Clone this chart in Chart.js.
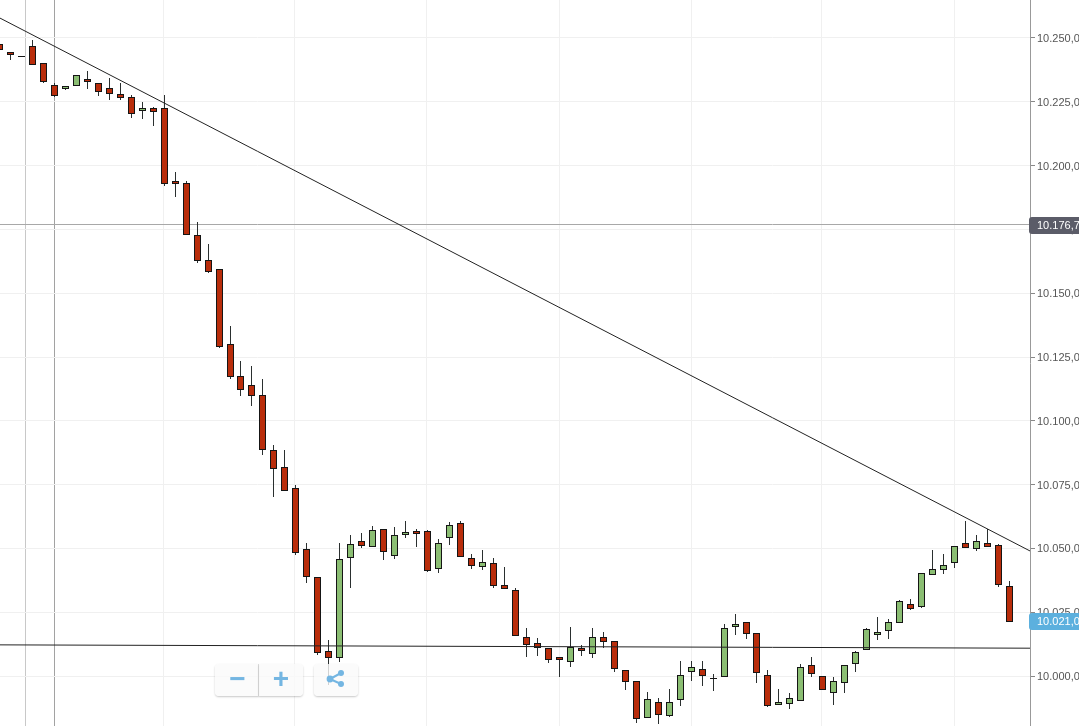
<!DOCTYPE html>
<html>
<head>
<meta charset="utf-8">
<title>Candles</title>
<script src="https://cdn.jsdelivr.net/npm/chart.js@4"></script>
<style>
html, body { margin: 0; padding: 0; background: #fff; overflow: hidden; }
#wrap { position: relative; width: 1079px; height: 726px; }
.btn {
    position: absolute; top: 664px; height: 32px; background: rgba(250,250,250,0.8);
    box-shadow: 0 1px 2px rgba(0,0,0,0.22); color: #74b6e2;
    font: bold 28px/30px "Liberation Sans", Arial, sans-serif; text-align: center;
}
</style>
</head>
<body>
<div id="wrap">
    <canvas id="chart"></canvas>
    <div class="btn" style="left:215px;width:43px;border-radius:4px 0 0 4px;border-right:1px solid #ddd;text-indent:2px">−</div>
    <div class="btn" style="left:259px;width:44px;border-radius:0 4px 4px 0">+</div>
    <div class="btn" style="left:314px;width:44px;border-radius:4px">
        <svg width="20" height="20" style="margin-top:6px" viewBox="0 0 20 20">
            <path d="M4 9 L15 3 M4 9 L15 14" stroke="#74b6e2" stroke-width="2" fill="none"/>
            <circle cx="4" cy="9" r="3.4" fill="#74b6e2"/>
            <circle cx="15" cy="3" r="3" fill="#74b6e2"/>
            <circle cx="15" cy="14" r="3" fill="#74b6e2"/>
        </svg>
    </div>
</div>
<script>
const opens = [10247.5,10244.4,10242.9,10246.8,10240.1,10231.5,10230.1,10231.3,10233.8,10232.2,10230.3,10227.9,10226.8,10221.7,10222.5,10222.5,10193.8,10193.1,10172.7,10162.9,10159.4,10130.0,10117.4,10113.9,10110.0,10088.4,10081.8,10073.6,10049.6,10038.7,10009.7,10007.3,10046.5,10052.8,10050.8,10057.5,10047.3,10055.5,10056.7,10056.7,10042.2,10054.3,10059.8,10046.1,10043.0,10044.2,10035.5,10033.6,10015.2,10012.8,10010.9,10007.3,10005.8,10010.9,10008.9,10015.2,10013.6,10002.2,9997.9,9983.8,9989.7,9984.6,9990.9,10001.8,10002.6,9999.1,9999.9,10019.5,10021.0,10016.7,10000.3,9988.9,9989.3,9990.5,10004.2,9999.9,9993.6,9997.5,10005.0,10010.5,10016.3,10017.9,10021.0,10028.1,10027.3,10039.9,10041.8,10044.6,10052.0,10050.0,10052.0,10051.2,10035.1];
const highs = [10247.5,10244.4,10242.9,10249.2,10240.1,10232.3,10231.1,10235.4,10237.0,10232.2,10234.3,10232.0,10227.3,10224.8,10222.8,10227.3,10197.4,10193.8,10177.9,10169.0,10159.4,10137.1,10123.4,10121.1,10116.0,10090.5,10088.2,10074.6,10052.0,10038.7,10014.0,10052.0,10055.1,10056.0,10058.7,10057.5,10058.0,10060.6,10057.5,10057.1,10053.6,10060.2,10060.6,10047.7,10049.1,10046.1,10042.6,10034.1,10018.7,10014.8,10010.9,10007.3,10019.2,10011.9,10018.7,10017.1,10013.6,10002.2,9997.9,9993.7,9991.3,9994.8,10005.8,10005.8,10005.8,10000.7,10020.1,10024.2,10021.0,10016.7,10002.2,9994.8,9993.2,10004.7,10007.2,9999.9,9999.5,10004.2,10009.7,10018.7,10023.1,10022.2,10029.7,10030.1,10040.2,10049.1,10047.7,10050.8,10060.6,10055.1,10057.5,10051.6,10037.1];
const lows = [10245.6,10241.4,10242.8,10239.7,10232.5,10227.2,10229.9,10231.3,10230.4,10227.4,10225.8,10225.8,10218.9,10218.4,10215.9,10192.1,10188.0,10173.1,10162.0,10158.0,10128.6,10116.5,10110.1,10106.1,10086.7,10070.3,10072.8,10047.7,10036.7,10008.3,9996.5,10005.8,10034.8,10050.3,10050.8,10045.7,10046.1,10054.3,10050.7,10040.8,10040.6,10051.7,10046.9,10042.2,10041.7,10034.6,10034.4,10015.9,10007.7,10008.2,10005.2,9999.7,10003.8,10008.2,10007.2,10011.1,10001.7,9994.6,9981.7,9983.8,9981.3,9984.1,9988.4,9998.2,9996.2,9994.2,9999.9,10016.2,10014.8,9997.3,9988.1,9988.9,9987.2,9990.5,9999.7,9994.8,9988.9,9993.7,10001.7,10010.5,10014.2,10014.8,10021.0,10026.1,10026.9,10039.9,10040.2,10042.7,10050.4,10049.3,10050.8,10035.1,10021.4];
const closes = [10245.6,10243.6,10242.8,10239.7,10232.9,10227.4,10231.1,10235.4,10232.9,10229.1,10228.3,10226.6,10220.5,10222.5,10221.3,10193.1,10192.9,10173.1,10162.9,10158.6,10129.2,10117.4,10112.3,10110.0,10088.8,10081.4,10072.8,10048.5,10039.1,10009.3,10007.3,10045.7,10051.6,10051.2,10057.1,10048.9,10055.1,10056.3,10055.9,10041.4,10052.0,10059.1,10046.9,10043.4,10044.6,10035.5,10034.4,10015.9,10012.4,10011.2,10006.5,10006.5,10011.2,10010.1,10015.2,10013.6,10003.0,9997.9,9983.4,9990.9,9985.0,9989.7,10000.3,10003.4,10000.3,9999.0,10018.7,10020.3,10016.7,10001.4,9988.5,9989.7,9991.3,10003.4,10001.1,9994.8,9997.9,10004.2,10009.3,10018.3,10017.1,10021.0,10029.3,10026.5,10040.2,10041.8,10043.4,10050.8,10050.4,10052.8,10050.8,10035.9,10021.4];

const yTicks = [10000,10025,10050,10075,10100,10125,10150,10175,10200,10225,10250];
const crosshairPrice = 10176.92;
const crosshairLabel = "10.176,79";
const lastPrice = 10021.4;
const lastLabel = "10.021,00";

// x values of the time grid and of the two crosshair lines (in candle numbers)
const xGrid = [14.98,26.92,38.94,50.97,62.99,74.92,86.95];
const xCross = [2.41,4.98];

const xMin = 0.0509;
const xMax = 93.866;
const yMin = 9980.41;
const yMax = 10264.89;

const trendLine = [10257.8,10049.0];
const supportLine = [10012.2,10010.9];

const wickData = lows.map((low, i) => ({x: i, y: [low, highs[i]]}));
const bodyData = opens.map((open, i) => ({x: i, y: [open, closes[i]]}));
const bodyColors = opens.map((open, i) => closes[i] > open ? "#8bbe73" : "#b92d0b");

// keep the candles on whole pixels so the 1px borders stay sharp
const snapBars = {
    id: "snapBars",
    beforeDatasetsDraw(chart) {
        chart.data.datasets.forEach((ds, d) => {
            if (ds.type !== "bar") return;
            chart.getDatasetMeta(d).data.forEach(el => {
                const top = Math.min(el.y, el.base);
                const bottom = Math.max(el.y, el.base);
                el.x = Math.floor(el.x) + 0.5;
                el.y = Math.floor(top);
                el.base = Math.max(Math.ceil(bottom), el.y + 1);
            });
        });
    }
};

const priceTags = {
    id: "priceTags",
    afterDraw(chart) {
        const ctx = chart.ctx;
        const y = chart.scales.y;
        const drawTag = (value, text, color) => {
            const py = Math.round(y.getPixelForValue(value));
            ctx.save();
            ctx.fillStyle = color;
            ctx.beginPath();
            ctx.roundRect(1029, py - 8, 60, 17, 3);
            ctx.fill();
            ctx.fillStyle = "#fff";
            ctx.font = "11px 'Liberation Sans', Arial, sans-serif";
            ctx.textBaseline = "middle";
            ctx.fillText(text, 1037, py + 1);
            ctx.restore();
        };
        drawTag(crosshairPrice, crosshairLabel, "#5b5c68");
        drawTag(lastPrice, lastLabel, "#5cb0de");
    }
};

new Chart(document.getElementById("chart"), {
    data: {
        datasets: [
            {type: "line", data: [{x: xMin, y: trendLine[0]}, {x: xMax, y: trendLine[1]}], borderColor: "#222", borderWidth: 1, pointRadius: 0, order: 1},
            {type: "line", data: [{x: xMin, y: supportLine[0]}, {x: xMax, y: supportLine[1]}], borderColor: "#222", borderWidth: 1, pointRadius: 0, order: 1},
            {type: "bar", data: bodyData, backgroundColor: bodyColors, borderColor: "#151515", borderWidth: 1, borderSkipped: false, inflateAmount: 0, barThickness: 7, grouped: false, order: 2},
            {type: "bar", data: wickData, backgroundColor: "#2a2f2f", borderWidth: 0, inflateAmount: 0, barThickness: 1, grouped: false, order: 3}
        ]
    },
    options: {
        responsive: true,
        maintainAspectRatio: false,
        animation: false,
        layout: {padding: 0},
        plugins: {legend: {display: false}, tooltip: {enabled: false}},
        scales: {
            x: {
                type: "linear",
                min: xMin,
                max: xMax,
                offset: false,
                border: {display: false},
                ticks: {display: false},
                afterBuildTicks(scale) {
                    scale.ticks = xCross.concat(xGrid).map(v => ({value: v}));
                },
                afterFit(scale) {
                    scale.height = 0;
                    scale.paddingLeft = 0;
                    scale.paddingRight = 0;
                },
                grid: {
                    offset: false,
                    drawTicks: false,
                    color(c) {
                        if (c.tick && c.tick.value === xCross[0]) return "#c8c8c8";
                        if (c.tick && c.tick.value === xCross[1]) return "#a2a2a2";
                        return "#f0f0f0";
                    }
                }
            },
            y: {
                position: "right",
                min: yMin,
                max: yMax,
                border: {color: "#999"},
                afterBuildTicks(scale) {
                    scale.ticks = yTicks.concat(crosshairPrice).map(v => ({value: v}));
                },
                afterFit(scale) {
                    scale.width = 49;
                    scale.paddingTop = 0;
                    scale.paddingBottom = 0;
                },
                ticks: {
                    autoSkip: false,
                    padding: 2,
                    labelOffset: 1,
                    color: "#555",
                    font: {family: "'Liberation Sans', Arial, sans-serif", size: 11},
                    callback(v) {
                        if (v === crosshairPrice) return "";
                        return v.toLocaleString("de-DE", {minimumFractionDigits: 2, maximumFractionDigits: 2});
                    }
                },
                grid: {
                    tickLength: 5,
                    tickColor: "#888",
                    color(c) {
                        return c.tick && c.tick.value === crosshairPrice ? "#a8a8a8" : "#f0f0f0";
                    }
                }
            }
        }
    },
    plugins: [snapBars, priceTags]
});
</script>
</body>
</html>
